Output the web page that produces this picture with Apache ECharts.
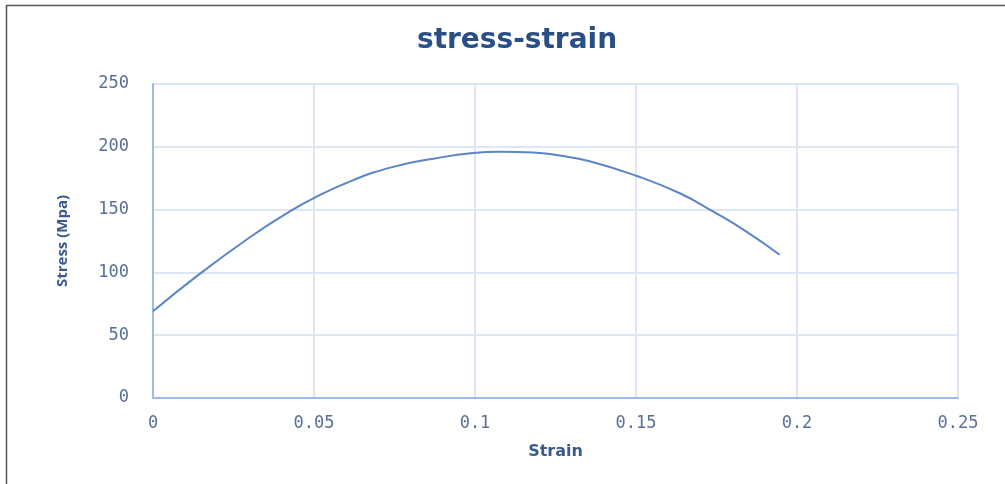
<!DOCTYPE html>
<html>
<head>
<meta charset="utf-8">
<script src="https://cdn.jsdelivr.net/npm/echarts@6/dist/echarts.min.js"></script>
<style>
  html, body { margin: 0; padding: 0; background: #ffffff; }
  #chart { width: 1005px; height: 484px; }
</style>
</head>
<body>
<div id="chart"></div>
<script>
// Strain values (dimensionless) and matching stress readings (MPa)
const strain = [0, 0.0146, 0.0301, 0.0415, 0.0498, 0.0622, 0.0746, 0.087, 0.0994, 0.108, 0.118, 0.1263, 0.1356, 0.150, 0.1636, 0.1739, 0.1843, 0.1946];
const stress = [69, 99, 128, 147, 159, 173.5, 184, 190.5, 195, 196, 195.5, 193, 188.5, 177, 163, 148.5, 132.5, 114];

const xTicks = { min: 0, max: 0.25, interval: 0.05 };
const yTicks = { min: 0, max: 250, interval: 50 };

const points = strain.map((s, i) => [s, stress[i]]);

const chart = echarts.init(document.getElementById('chart'), null, { renderer: 'canvas' });

chart.setOption({
  backgroundColor: '#ffffff',
  animation: false,
  title: {
    text: 'stress-strain',
    left: 412,
    top: 22,
    textStyle: {
      fontFamily: 'DejaVu Sans',
      fontWeight: 'bold',
      fontSize: 28,
      color: '#2a4f86'
    }
  },
  grid: { left: 153, right: 47, top: 84, bottom: 86, containLabel: false },
  xAxis: {
    type: 'value',
    min: xTicks.min,
    max: xTicks.max,
    interval: xTicks.interval,
    name: 'Strain',
    nameLocation: 'middle',
    nameGap: 46,
    nameTextStyle: { fontFamily: 'DejaVu Sans', fontWeight: 'bold', fontSize: 16, color: '#3a5a8c' },
    axisLine: { show: true, lineStyle: { color: '#9dbbe6', width: 2 } },
    axisTick: { show: false },
    axisLabel: {
      margin: 17,
      fontFamily: 'DejaVu Sans Mono',
      fontSize: 17,
      color: '#5a6f96',
      formatter: v => String(Math.round(v * 100) / 100)
    },
    splitLine: { show: true, lineStyle: { color: '#dce6f4', width: 2 } }
  },
  yAxis: {
    type: 'value',
    min: yTicks.min,
    max: yTicks.max,
    interval: yTicks.interval,
    name: 'Stress (Mpa)',
    nameLocation: 'middle',
    nameGap: 83,
    nameRotate: 90,
    nameTextStyle: { fontFamily: 'Open Sans', fontWeight: 'bold', fontSize: 15, color: '#3a5a8c' },
    axisLine: { show: true, lineStyle: { color: '#9dbbe6', width: 2 } },
    axisTick: { show: false },
    axisLabel: {
      margin: 24,
      fontFamily: 'DejaVu Sans Mono',
      fontSize: 17,
      color: '#5a6f96'
    },
    splitLine: { show: true, lineStyle: { color: '#dce6f4', width: 2 } }
  },
  series: [{
    type: 'line',
    data: points,
    smooth: true,
    showSymbol: false,
    lineStyle: { color: '#5a86c5', width: 2 }
  }],
  graphic: [
    { type: 'line', shape: { x1: 6, y1: 5.5, x2: 1005, y2: 5.5 }, style: { stroke: '#555555', lineWidth: 1.5 } },
    { type: 'line', shape: { x1: 6.5, y1: 5, x2: 6.5, y2: 484 }, style: { stroke: '#555555', lineWidth: 1.5 } }
  ]
});
</script>
</body>
</html>
